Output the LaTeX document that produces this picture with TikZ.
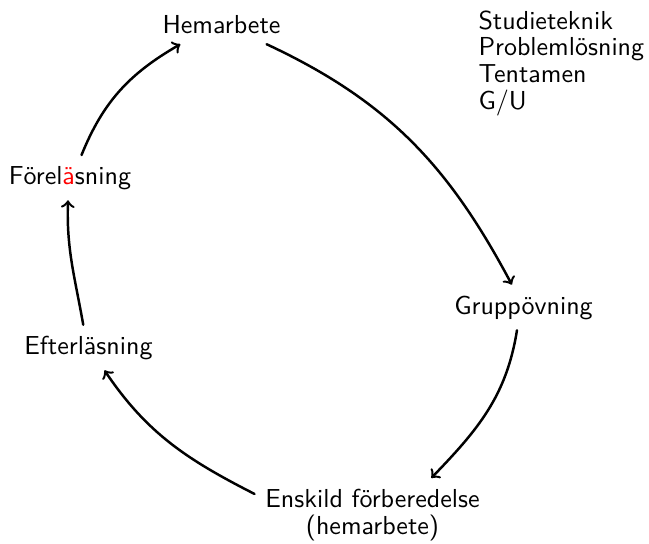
\documentclass[tikz,border=0pt]{standalone}
\usepackage{fontspec}
\usepackage{xcolor}
\begin{document}
\begin{tikzpicture}[x=0.3846pt,y=-0.3846pt,
  lbl/.style={font=\sffamily\fontsize{10}{10.3}\selectfont, inner sep=4pt},
  arr/.style={->, line width=0.95pt, line cap=round}]
\useasboundingbox (0,0) rectangle (649,543);
\node[lbl, anchor=base] (hem) at (221.5,33) {Hemarbete};
\node[lbl, anchor=base] (fore) at (70,184) {Förel{\color{red}ä}sning};
\node[lbl, anchor=base] (efter) at (88.5,354) {Efterläsning};
\node[lbl, anchor=base] (grupp) at (523.5,314) {Gruppövning};
\node[lbl, anchor=north, align=center] (ensk) at (372.5,478) {Enskild förberedelse\\(hemarbete)};
\node[lbl, anchor=north west, align=left, inner sep=0pt] (list) at (478,10) {Studieteknik\\Problemlösning\\Tentamen\\G/U};
\draw[arr] (fore.63) to[out=68, in=210] (hem.206);
\draw[arr] (hem.336) to[out=-25, in=118] (grupp.117);
\draw[arr] (grupp.254) to[out=-99, in=46] (ensk.32);
\draw[arr] (ensk.170) to[out=153, in=-56] (efter.305);
\draw[arr] (efter.103) to[out=100, in=268] (fore.265);
\end{tikzpicture}
\end{document}
